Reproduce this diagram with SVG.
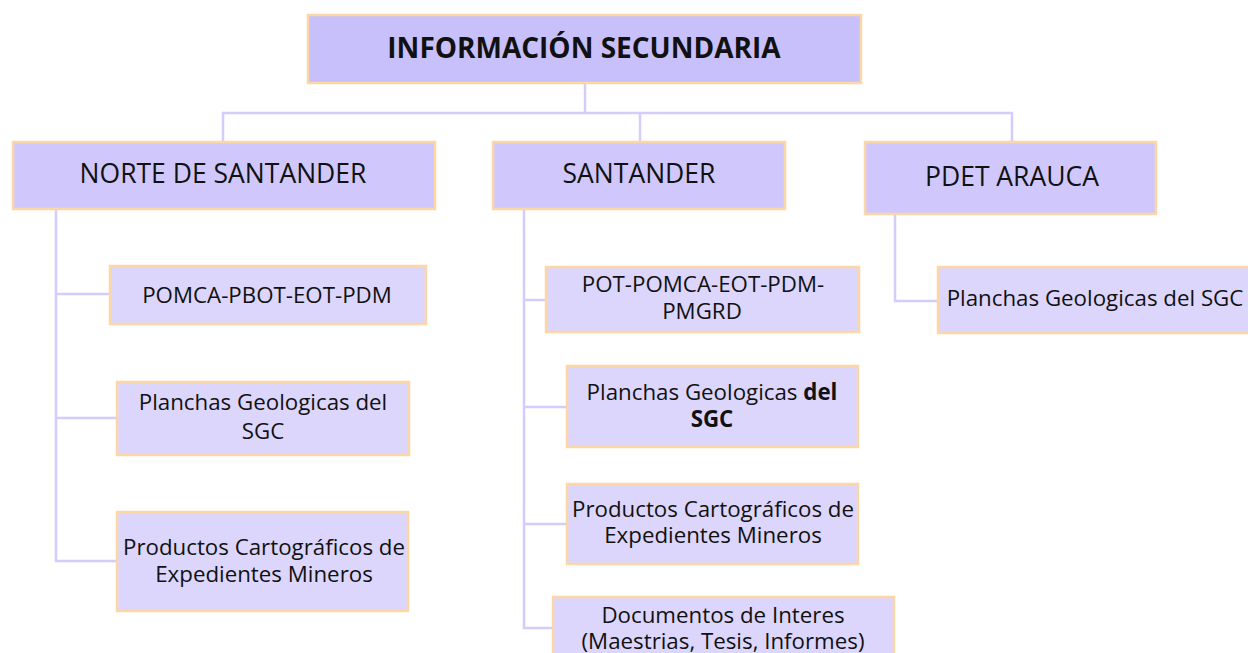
<svg xmlns="http://www.w3.org/2000/svg" width="1248" height="653" viewBox="0 0 1248 653">
<style>
.box{stroke:#fdd6a6;stroke-width:2.5}
.l1{fill:#c8c0fb}
.l2{fill:#d0c8fc}
.l3{fill:#dcd6fd}
.t{font-family:"Open Sans","Liberation Sans",sans-serif;fill:#111;text-anchor:middle}
.t1{font-size:28px;font-weight:bold}
.t2{font-size:26.5px}
.t3{font-size:22.3px}
.c{fill:none;stroke:#d4ccfb;stroke-width:2.5}
</style>
<rect width="1248" height="653" fill="#fff"/>
<g id="connectors">
<polyline class="c" points="585,83 585,113"/>
<polyline class="c" points="223,141 223,113 1012,113 1012,141"/>
<polyline class="c" points="640,113 640,141"/>
<polyline class="c" points="56,209 56,561 117,561"/>
<polyline class="c" points="56,294 110,294"/>
<polyline class="c" points="56,418 117,418"/>
<polyline class="c" points="524,209 524,628 553,628"/>
<polyline class="c" points="524,300 546,300"/>
<polyline class="c" points="524,407 567,407"/>
<polyline class="c" points="524,524 567,524"/>
<polyline class="c" points="895,214 895,301 938,301"/>
</g>
<g id="root">
<rect class="box l1" x="308" y="15" width="553" height="68"/>
<text class="t t1" x="584" y="58">INFORMACIÓN SECUNDARIA</text>
</g>
<g id="norte">
<rect class="box l2" x="13" y="142" width="422" height="67"/>
<text class="t t2" x="223" y="183">NORTE DE SANTANDER</text>
</g>
<g id="santander">
<rect class="box l2" x="493" y="142" width="292" height="67"/>
<text class="t t2" x="639" y="183">SANTANDER</text>
</g>
<g id="pdet">
<rect class="box l2" x="865" y="142" width="291" height="72"/>
<text class="t t2" x="1012" y="186">PDET ARAUCA</text>
</g>
<g id="n-pomca">
<rect class="box l3" x="110" y="266" width="316" height="58"/>
<text class="t t3" x="267" y="303">POMCA-PBOT-EOT-PDM</text>
</g>
<g id="n-planchas">
<rect class="box l3" x="117" y="382" width="292" height="73"/>
<text class="t t3" x="263" y="410">Planchas Geologicas del</text>
<text class="t t3" x="263" y="439">SGC</text>
</g>
<g id="n-productos">
<rect class="box l3" x="117" y="512" width="291" height="99"/>
<text class="t t3" x="264" y="555">Productos Cartográficos de</text>
<text class="t t3" x="264" y="582">Expedientes Mineros</text>
</g>
<g id="s-pot">
<rect class="box l3" x="546" y="267" width="313" height="65"/>
<text class="t t3" x="703" y="292">POT-POMCA-EOT-PDM-</text>
<text class="t t3" x="702" y="319">PMGRD</text>
</g>
<g id="s-planchas">
<rect class="box l3" x="567" y="366" width="291" height="81"/>
<text class="t t3" x="712" y="400">Planchas Geologicas <tspan font-weight="bold">del</tspan></text>
<text class="t t3" x="712" y="427" font-weight="bold">SGC</text>
</g>
<g id="s-productos">
<rect class="box l3" x="567" y="484" width="291" height="80"/>
<text class="t t3" x="713" y="517">Productos Cartográficos de</text>
<text class="t t3" x="713" y="543">Expedientes Mineros</text>
</g>
<g id="s-documentos">
<rect class="box l3" x="553" y="597" width="341" height="70"/>
<text class="t t3" x="723" y="623">Documentos de Interes</text>
<text class="t t3" x="723" y="649">(Maestrias, Tesis, Informes)</text>
</g>
<g id="p-planchas">
<rect class="box l3" x="938" y="267" width="320" height="66"/>
<text class="t t3" x="1095" y="306">Planchas Geologicas del SGC</text>
</g>
</svg>
